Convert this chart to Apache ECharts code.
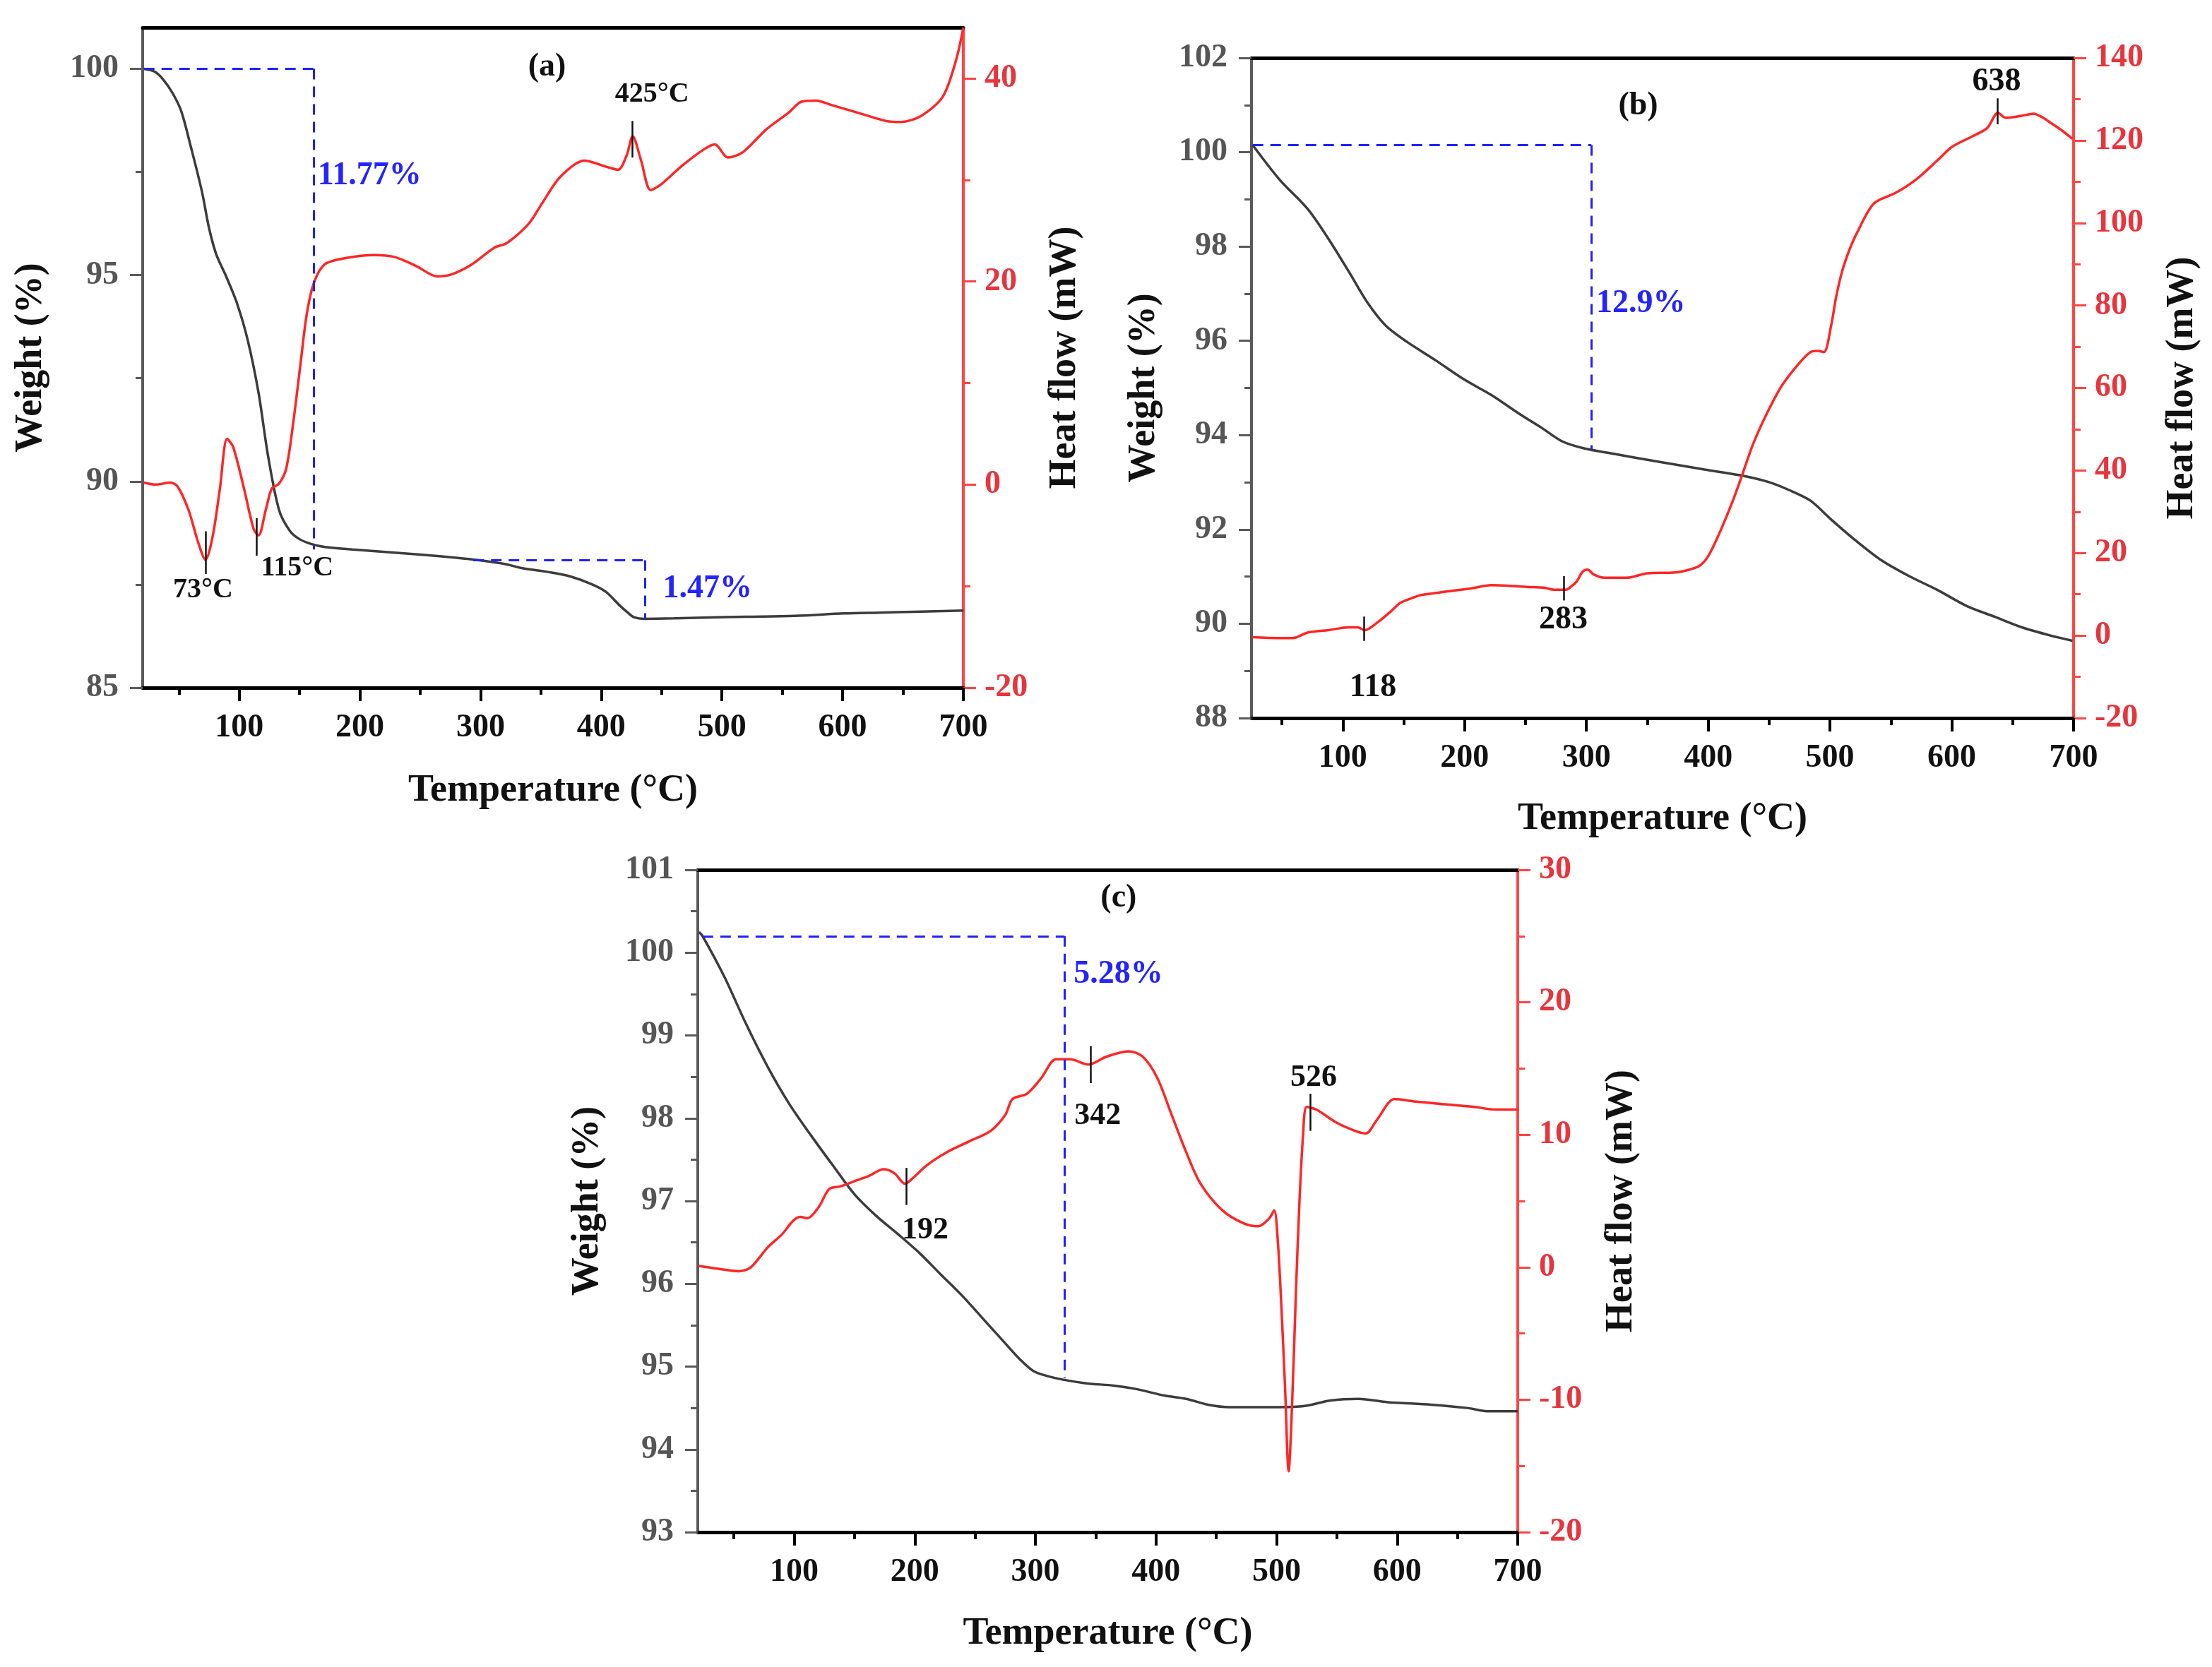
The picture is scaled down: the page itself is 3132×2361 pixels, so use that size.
<!DOCTYPE html>
<html>
<head>
<meta charset="utf-8">
<title>TGA / DSC curves</title>
<script src="https://cdn.jsdelivr.net/npm/echarts@6/dist/echarts.min.js"></script>
<style>
  html, body { margin: 0; padding: 0; background: #fff; }
  #chart { width: 3132px; height: 2361px; }
</style>
</head>
<body>
<div id="chart"></div>
<script>
// ---- panel (a) ----
const aWeightT = [21, 30, 37, 45, 52, 60, 69, 75, 81, 89, 98, 107, 116, 124, 133, 142, 150, 160, 171, 194, 225, 252, 280, 299, 320, 334, 357, 374, 392, 404, 415, 422, 427, 436, 460, 485, 520, 560, 601, 630, 659, 700];
const aWeight = [100, 99.93, 99.74, 99.4, 98.97, 98.1, 97.04, 96.14, 95.5, 94.98, 94.33, 93.43, 92.15, 90.6, 89.31, 88.8, 88.6, 88.48, 88.41, 88.35, 88.28, 88.22, 88.15, 88.09, 88.0, 87.9, 87.8, 87.7, 87.51, 87.32, 87.0, 86.82, 86.71, 86.67, 86.68, 86.7, 86.72, 86.74, 86.8, 86.82, 86.84, 86.87];
const aHeatT = [21, 31, 43, 49, 58, 66, 72, 78, 84, 90, 95, 104, 112, 116, 122, 127, 133, 139, 145, 151, 156, 162, 171, 188, 212, 229, 247, 264, 276, 293, 311, 322, 340, 351, 366, 386, 404, 414, 421, 426, 433, 441, 450, 467, 485, 494, 505, 517, 537, 555, 566, 578, 590, 613, 636, 648, 665, 683, 694, 700];
const aHeat = [0.2, 0, 0.2, -0.2, -2.5, -5.7, -7.4, -5.1, -0.4, 4.5, 3.7, -0.4, -4.4, -5.0, -2.5, -0.4, 0.1, 1.6, 6.3, 12.1, 16.8, 19.9, 21.7, 22.3, 22.6, 22.4, 21.5, 20.5, 20.7, 21.7, 23.3, 23.8, 25.7, 27.7, 30.3, 31.9, 31.3, 31.0, 32.4, 34.3, 31.9, 29.0, 29.6, 31.4, 33.0, 33.5, 32.2, 32.7, 35.0, 36.6, 37.7, 37.8, 37.4, 36.6, 35.8, 35.7, 36.3, 38.2, 41.8, 45];
const aLeftTicks = [85, 90, 95, 100];
const aLeftMinor = [87.5, 92.5, 97.5];
const aRightTicks = [-20, 0, 20, 40];
const aRightMinor = [-10, 10, 30];
// mass-loss guides (weight axis): [t1, w1, t2, w2]
const aGuides = [[21, 100, 162, 100], [162, 100, 162, 88.35], [294, 88.09, 436.5, 88.09], [436.5, 88.09, 436.5, 86.67]];
// peak markers (heat axis): [t, top, bottom]
const aPeaks = [[72, -4.6, -8.8], [114.5, -3.3, -7.0], [425.6, 35.8, 32.2]];
const aWeightNotes = [['(a)', 355, 100.04, 'center', '#111'], ['11.77%', 165, 97.4, 'left', '#2424ff'], ['1.47%', 451, 87.4, 'left', '#2424ff']];
const aHeatNotes = [['73°C', 70, -10.4, 'center', '#111'], ['115°C', 148, -8.2, 'center', '#111'], ['425°C', 442, 38.4, 'center', '#111']];

// ---- panel (b) ----
const bWeightT = [26, 48, 71, 88, 106, 120, 135, 152, 176, 199, 222, 245, 263, 280, 298, 321, 356, 397, 426, 449, 466, 484, 501, 519, 542, 565, 588, 612, 635, 658, 681, 699];
const bWeight = [100.15, 99.42, 98.8, 98.17, 97.42, 96.82, 96.33, 95.99, 95.59, 95.19, 94.85, 94.45, 94.16, 93.87, 93.72, 93.61, 93.45, 93.27, 93.15, 93.01, 92.84, 92.61, 92.21, 91.81, 91.35, 91.01, 90.72, 90.38, 90.15, 89.92, 89.75, 89.64];
const bHeatT = [26, 48, 59, 71, 88, 105, 112, 118, 129, 140, 147, 156, 164, 181, 205, 222, 240, 251, 265, 274, 283, 288, 292, 297, 301, 306, 315, 333, 350, 373, 391, 397, 402, 408, 414, 420, 426, 437, 449, 461, 475, 484, 490, 495, 501, 505, 510, 516, 522, 536, 554, 571, 588, 600, 617, 629, 638, 644, 649, 658, 667, 675, 681, 690, 699];
const bHeat = [-0.4, -0.6, -0.6, 0.7, 1.3, 2.0, 2.0, 1.3, 3.3, 6.0, 7.9, 9.0, 9.8, 10.5, 11.4, 12.2, 12.0, 11.8, 11.6, 11.1, 11.1, 12.0, 13.1, 15.5, 16.0, 14.8, 14.0, 14.0, 15.1, 15.3, 16.6, 18.0, 20.3, 24.0, 28.1, 32.5, 37.3, 46.5, 54.3, 60.8, 66.1, 68.7, 69.0, 68.7, 75.2, 82.0, 88.3, 93.5, 97.5, 104.7, 107.3, 110.6, 115.1, 118.4, 121.0, 123.0, 126.7, 125.5, 125.6, 126.0, 126.5, 125.5, 124.3, 122.5, 120.4];
const bLeftTicks = [88, 90, 92, 94, 96, 98, 100, 102];
const bLeftMinor = [89, 91, 93, 95, 97, 99, 101];
const bRightTicks = [-20, 0, 20, 40, 60, 80, 100, 120, 140];
const bRightMinor = [-10, 10, 30, 50, 70, 90, 110, 130];
const bGuides = [[26, 100.15, 304, 100.15], [304, 100.15, 304, 93.7]];
const bPeaks = [[637.5, 130.2, 123.9], [281.4, 14.4, 8.5], [117.4, 4.6, -1.3]];
const bWeightNotes = [['(b)', 342.5, 100.98, 'center', '#111'], ['12.9%', 308, 96.79, 'left', '#2424ff']];
const bHeatNotes = [['638', 636.8, 134.1, 'center', '#111'], ['283', 281, 3.8, 'center', '#111'], ['118', 124.7, -12.6, 'center', '#111']];

// ---- panel (c) ----
const cWeightT = [21, 24, 42, 60, 78, 96, 114, 132, 150, 168, 186, 204, 221, 239, 257, 275, 287, 299, 317, 341, 365, 383, 407, 425, 443, 461, 497, 521, 545, 568, 592, 628, 658, 676, 700];
const cWeight = [100.25, 100.2, 99.71, 99.14, 98.62, 98.17, 97.79, 97.43, 97.08, 96.82, 96.6, 96.37, 96.12, 95.86, 95.57, 95.28, 95.09, 94.94, 94.86, 94.8, 94.77, 94.73, 94.65, 94.61, 94.54, 94.51, 94.51, 94.52, 94.59, 94.61, 94.57, 94.54, 94.5, 94.46, 94.46];
const cHeatT = [21, 36, 54, 64, 78, 90, 99, 105, 111, 120, 129, 138, 150, 162, 174, 183, 192, 198, 210, 227, 245, 263, 275, 281, 293, 305, 317, 329, 344, 359, 377, 389, 401, 413, 425, 437, 455, 473, 485, 494, 498, 501, 504, 507, 510, 513, 516, 519, 522, 525, 533, 550, 565, 574, 583, 598, 616, 640, 664, 682, 700];
const cHeat = [0.1, -0.1, -0.3, 0, 1.5, 2.5, 3.5, 3.8, 3.7, 4.5, 5.9, 6.1, 6.5, 6.9, 7.4, 7.1, 6.3, 6.7, 7.7, 8.7, 9.5, 10.3, 11.5, 12.7, 13.1, 14.3, 15.7, 15.7, 15.3, 15.9, 16.3, 15.9, 14.3, 11.5, 8.7, 6.3, 4.3, 3.3, 3.1, 3.7, 4.3, 2.0, -3.0, -9.0, -15.4, -10.0, -2.0, 5.0, 10.0, 12.1, 11.9, 10.9, 10.3, 10.1, 11.1, 12.7, 12.5, 12.3, 12.1, 11.9, 11.9];
const cLeftTicks = [93, 94, 95, 96, 97, 98, 99, 100, 101];
const cLeftMinor = [93.5, 94.5, 95.5, 96.5, 97.5, 98.5, 99.5, 100.5];
const cRightTicks = [-20, -10, 0, 10, 20, 30];
const cRightMinor = [-15, -5, 5, 15, 25];
const cGuides = [[24, 100.2, 324, 100.2], [324, 100.2, 324, 94.86]];
const cPeaks = [[192.7, 7.5, 4.7], [345.9, 16.7, 13.9], [527.7, 13.1, 10.3]];
const cWeightNotes = [['(c)', 369, 100.66, 'center', '#111'], ['5.28%', 331.7, 99.74, 'left', '#2424ff']];
const cHeatNotes = [['192', 208.6, 2.8, 'center', '#111'], ['342', 351.6, 11.4, 'center', '#111'], ['526', 530.8, 14.3, 'center', '#111']];

// shared x ticks
const xTicks = [100, 200, 300, 400, 500, 600, 700];
const xMinor = [50, 150, 250, 350, 450, 550, 650];

const FONT = '"Liberation Serif", "Times New Roman", serif';

const panels = [
  { grid: { left: 202, top: 39, width: 1162, height: 935 }, xMin: 20,
    left: [85, 101, aLeftTicks, aLeftMinor], right: [-20, 45, aRightTicks, aRightMinor],
    weight: [aWeightT, aWeight], heat: [aHeatT, aHeat], guides: aGuides, peaks: aPeaks,
    wNotes: aWeightNotes, hNotes: aHeatNotes, noteSize: 40, gaps: [119, 131, 117] },
  { grid: { left: 1772, top: 82, width: 1164, height: 935 }, xMin: 25,
    left: [88, 102, bLeftTicks, bLeftMinor], right: [-20, 140, bRightTicks, bRightMinor],
    weight: [bWeightT, bWeight], heat: [bHeatT, bHeat], guides: bGuides, peaks: bPeaks,
    wNotes: bWeightNotes, hNotes: bHeatNotes, noteSize: 46, gaps: [116, 125, 127] },
  { grid: { left: 988, top: 1232, width: 1161, height: 938 }, xMin: 20,
    left: [93, 101, cLeftTicks, cLeftMinor], right: [-20, 30, cRightTicks, cRightMinor],
    weight: [cWeightT, cWeight], heat: [cHeatT, cHeat], guides: cGuides, peaks: cPeaks,
    wNotes: cWeightNotes, hNotes: cHeatNotes, noteSize: 44, gaps: [117, 129, 120] }
];

const nameStyle = { fontFamily: FONT, fontSize: 54, fontWeight: 'bold', color: '#111' };
const hidden = { show: false };

function pairs(xs, ys) {
  return xs.map((x, i) => [x, ys[i]]);
}

function noteItems(notes, size) {
  return notes.map(([text, t, v, align, color]) => ({
    coord: [t, v],
    label: { formatter: text, align: align, color: color, fontSize: size }
  }));
}

function notesMark(notes, size) {
  return {
    symbol: 'circle', symbolSize: 0, silent: true, animation: false,
    label: { show: true, position: 'inside', fontFamily: FONT, fontWeight: 'bold', verticalAlign: 'middle' },
    data: noteItems(notes, size)
  };
}

const xAxes = [], yAxes = [], series = [];

panels.forEach((p, g) => {
  const xBase = { type: 'value', gridIndex: g, min: p.xMin, max: 700, splitLine: hidden };
  xAxes.push(Object.assign({}, xBase, {
    position: 'bottom',
    axisLine: { show: true, onZero: false, lineStyle: { color: '#000', width: 5 } },
    axisTick: { show: true, customValues: xTicks, length: 19, lineStyle: { color: '#000', width: 4 } },
    axisLabel: { customValues: xTicks, margin: 34, fontFamily: FONT, fontSize: 46, fontWeight: 'bold', color: '#111' },
    name: 'Temperature (°C)', nameLocation: 'middle', nameGap: p.gaps[0], nameTextStyle: nameStyle
  }));
  xAxes.push(Object.assign({}, xBase, {
    position: 'bottom',
    axisLine: { show: false, onZero: false },
    axisTick: { show: true, customValues: xMinor, length: 10, lineStyle: { color: '#000', width: 4 } },
    axisLabel: hidden
  }));
  xAxes.push(Object.assign({}, xBase, {
    position: 'top',
    axisLine: { show: true, onZero: false, lineStyle: { color: '#000', width: 5 } },
    axisTick: hidden, axisLabel: hidden
  }));

  const [lMin, lMax, lTicks, lMinor] = p.left;
  const [rMin, rMax, rTicks, rMinor] = p.right;
  yAxes.push({
    type: 'value', gridIndex: g, position: 'left', min: lMin, max: lMax, splitLine: hidden,
    axisLine: { show: true, onZero: false, lineStyle: { color: '#5a5a5a', width: 4 } },
    axisTick: { show: true, customValues: lTicks, length: 18, lineStyle: { color: '#5a5a5a', width: 3 } },
    axisLabel: { customValues: lTicks, margin: 34, fontFamily: FONT, fontSize: 46, fontWeight: 'bold', color: '#555' },
    name: 'Weight (%)', nameLocation: 'middle', nameRotate: 90, nameGap: p.gaps[1], nameTextStyle: nameStyle
  });
  yAxes.push({
    type: 'value', gridIndex: g, position: 'left', min: lMin, max: lMax, splitLine: hidden,
    axisLine: { show: false, onZero: false },
    axisTick: { show: true, customValues: lMinor, length: 10, lineStyle: { color: '#5a5a5a', width: 3 } },
    axisLabel: hidden
  });
  yAxes.push({
    type: 'value', gridIndex: g, position: 'right', min: rMin, max: rMax, splitLine: hidden,
    axisLine: { show: true, onZero: false, lineStyle: { color: '#ff4444', width: 4 } },
    axisTick: { show: true, customValues: rTicks, length: 18, lineStyle: { color: '#ff4444', width: 3 } },
    axisLabel: { customValues: rTicks, margin: 30, fontFamily: FONT, fontSize: 46, fontWeight: 'bold', color: '#e8343c' },
    name: 'Heat flow (mW)', nameLocation: 'middle', nameRotate: 90, nameGap: p.gaps[2], nameTextStyle: nameStyle
  });
  yAxes.push({
    type: 'value', gridIndex: g, position: 'right', min: rMin, max: rMax, splitLine: hidden,
    axisLine: { show: false, onZero: false },
    axisTick: { show: true, customValues: rMinor, length: 10, lineStyle: { color: '#ff4444', width: 3 } },
    axisLabel: hidden
  });

  series.push({
    name: 'Weight', type: 'line', xAxisIndex: 3 * g, yAxisIndex: 4 * g,
    data: pairs(p.weight[0], p.weight[1]),
    showSymbol: false, smooth: 0.3, z: 3,
    lineStyle: { color: '#3c3c3c', width: 3.5 }, itemStyle: { color: '#3c3c3c' },
    emphasis: { disabled: true },
    markLine: {
      symbol: ['none', 'none'], silent: true, animation: false, label: hidden,
      lineStyle: { color: '#2020ff', width: 3, type: [15, 10] },
      data: p.guides.map(s => [{ coord: [s[0], s[1]] }, { coord: [s[2], s[3]] }])
    },
    markPoint: notesMark(p.wNotes, 46)
  });
  series.push({
    name: 'Heat flow', type: 'line', xAxisIndex: 3 * g, yAxisIndex: 4 * g + 2,
    data: pairs(p.heat[0], p.heat[1]),
    showSymbol: false, smooth: 0.3, z: 4,
    lineStyle: { color: '#ff2626', width: 3.5 }, itemStyle: { color: '#ff2626' },
    emphasis: { disabled: true },
    markLine: {
      symbol: ['none', 'none'], silent: true, animation: false, label: hidden,
      lineStyle: { color: '#111', width: 2.5, type: 'solid' },
      data: p.peaks.map(s => [{ coord: [s[0], s[1]] }, { coord: [s[0], s[2]] }])
    },
    markPoint: notesMark(p.hNotes, p.noteSize)
  });
});

const chart = echarts.init(document.getElementById('chart'));
chart.setOption({
  animation: false,
  backgroundColor: '#fff',
  grid: panels.map(p => Object.assign({ containLabel: false }, p.grid)),
  xAxis: xAxes,
  yAxis: yAxes,
  series: series
});
</script>
</body>
</html>
